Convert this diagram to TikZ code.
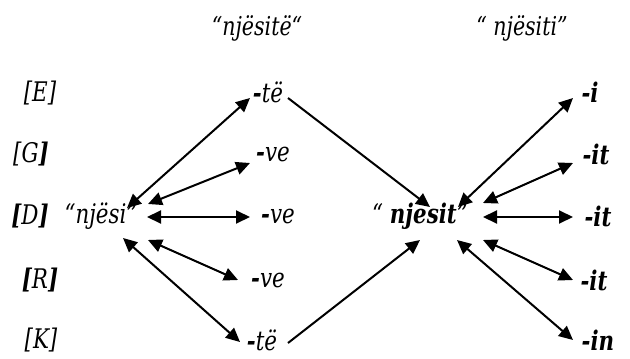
\documentclass[tikz,border=0pt]{standalone}
\usepackage{fontspec}
\setmainfont[FakeStretch=0.88]{DejaVu Serif Condensed}
\usetikzlibrary{positioning,arrows.meta,calc}

\begin{document}
\begin{tikzpicture}[
  x=1pt, y=-1pt,
  font=\fontsize{27}{31}\selectfont\itshape,
  title/.style={font=\fontsize{26}{30}\selectfont\itshape},
  form/.style={inner sep=2pt},
  arr/.style={-{Triangle[length=14pt,width=13pt]}, line width=2pt},
  darr/.style={{Triangle[length=14pt,width=13pt]}-{Triangle[length=14pt,width=13pt]}, line width=2pt}]
\useasboundingbox (0,0) rectangle (630,359);
% titles
\node[title] (titleL) at (257,28) {“njësitë“};
\node[title] (titleR) at (522,28) {“ njësiti”};
% case tags
\node (caseE) at (40,93) {[E]};
\node (caseG) at (31,154) {[G\textbf{]}};
\node (caseD) at (30,216) {\textbf{[}D\textbf{]}};
\node (caseR) at (40,280) {\textbf{[}R\textbf{]}};
\node (caseK) at (41,340) {[K]};
% stems
\node[form] (stemL) at (101,216) {“njësi”};
\node[form] (stemR) at (420,216) {“ \textbf{njesit}”};
% plural endings
\node[form] (plE) at (268,92) {\textbf{-}të};
\node[form] (plG) at (273,154) {\textbf{-}ve};
\node[form] (plD) at (278,216) {\textbf{-}ve};
\node[form] (plR) at (268,280) {\textbf{-}ve};
\node[form] (plK) at (262,340) {\textbf{-}të};
% singular endings
\node[form] (sgE) at (590,92) {\textbf{-i}};
\node[form] (sgG) at (596,154) {\textbf{-it}};
\node[form] (sgD) at (598,216) {\textbf{-it}};
\node[form] (sgR) at (594,280) {\textbf{-it}};
\node[form] (sgK) at (598,340) {\textbf{-in}};
% left fan
\draw[darr] ($(stemL)+(26,-8)$) -- ($(plE)+(-18,6)$);
\draw[darr] ($(stemL)+(47,-12)$) -- ($(plG)+(-23,9)$);
\draw[darr] ($(stemL)+(46,1)$) -- ($(plD)+(-28,1)$);
\draw[darr] ($(stemL)+(47,24)$) -- ($(plR)+(-30,0)$);
\draw[darr] ($(stemL)+(22,22)$) -- ($(plK)+(-22,2)$);
% into the definite stem
\draw[arr] ($(plE)+(20,6)$) -- ($(stemR)+(10,-9)$);
\draw[arr] ($(plK)+(26,3)$) -- ($(stemR)+(0,24)$);
% right fan
\draw[darr] ($(stemR)+(38,-9)$) -- ($(sgE)+(-17,6)$);
\draw[darr] ($(stemR)+(63,-13)$) -- ($(sgG)+(-23,9)$);
\draw[darr] ($(stemR)+(63,1)$) -- ($(sgD)+(-25,1)$);
\draw[darr] ($(stemR)+(63,24)$) -- ($(sgR)+(-21,0)$);
\draw[darr] ($(stemR)+(37,24)$) -- ($(sgK)+(-25,0)$);
\end{tikzpicture}
\end{document}
